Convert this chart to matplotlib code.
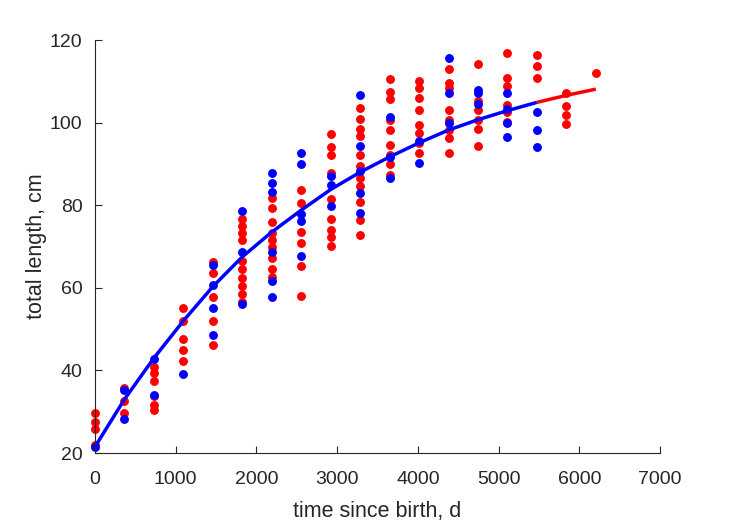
import numpy as np
import matplotlib
matplotlib.use('Agg')
import matplotlib.pyplot as plt

plt.rcParams['font.family'] = ['Liberation Sans', 'DejaVu Sans']

# Ages of the measurement cohorts, days since birth
t_days = [0, 365, 730, 1095, 1460, 1825, 2190, 2555, 2920, 3285,
          3650, 4015, 4380, 4745, 5110, 5475, 5840, 6205]

# Total length (cm) per cohort, red group
red_len = [
    [29.8, 27.6, 25.7, 21.9],
    [35.7, 32.6, 29.8],
    [40.9, 39.4, 37.5, 33.8, 31.6, 30.4],
    [55.0, 52.0, 47.6, 44.9, 42.3],
    [66.3, 63.5, 57.8, 52.0, 46.2],
    [76.7, 75.0, 73.2, 71.6, 66.6, 64.5, 62.4, 60.5, 58.4, 56.6],
    [81.8, 79.4, 76.0, 73.2, 71.6, 69.8, 67.2, 64.6, 62.7],
    [83.8, 80.5, 73.6, 70.9, 65.3, 58.0],
    [97.3, 94.2, 92.2, 87.7, 81.5, 76.7, 74.0, 72.2, 70.2],
    [103.6, 100.8, 98.4, 96.7, 92.2, 89.5, 86.7, 84.7, 80.7, 76.4, 72.8],
    [110.5, 107.5, 105.7, 100.6, 98.3, 94.6, 92.2, 90.0, 87.3],
    [110.0, 108.3, 105.9, 103.1, 99.4, 97.6, 95.0, 92.6],
    [113.1, 109.5, 108.4, 103.1, 100.6, 98.3, 96.2, 92.6],
    [114.1, 105.2, 103.1, 100.6, 98.4, 94.3],
    [116.9, 110.7, 108.8, 104.3, 102.5, 100.2],
    [116.4, 113.8, 110.7],
    [107.1, 104.0, 101.8, 99.7],
    [112.1],
]

# Total length (cm) per cohort, blue group
blue_len = [
    [21.5],
    [35.3, 28.2],
    [42.7, 34.0],
    [39.1],
    [65.6, 60.7, 55.0, 48.6],
    [78.5, 68.7, 56.1],
    [87.9, 85.3, 83.1, 68.7, 61.6, 57.8],
    [92.7, 89.9, 77.8, 76.2, 67.7],
    [87.1, 84.9, 79.8],
    [106.7, 94.4, 88.4, 82.9, 78.0],
    [101.4, 91.7, 86.6],
    [95.6, 90.3],
    [115.7, 107.1, 99.8],
    [107.9, 107.2, 104.4],
    [107.1, 103.2, 100.0, 96.6],
    [102.5, 98.2, 94.2],
    [],
    [],
]

# Fitted growth curve read at each cohort age
curve_len = [21.5, 33.0, 43.0, 52.0, 60.3, 67.5, 73.5, 78.8, 83.8, 88.0,
             91.7, 95.1, 98.2, 100.7, 102.9, 104.9, 106.6, 108.1]
t_split = 5475  # curve switches from blue to red here

# Flatten the cohorts into x/y arrays
rx = [t for t, vals in zip(t_days, red_len) for v in vals]
ry = [v for vals in red_len for v in vals]
bx = [t for t, vals in zip(t_days, blue_len) for v in vals]
by = [v for vals in blue_len for v in vals]

t_arr = np.array(t_days)
c_arr = np.array(curve_len)
early = t_arr <= t_split
late = t_arr >= t_split

fig = plt.figure(figsize=(7.29, 5.21), dpi=100)
ax = fig.add_axes([0.1303, 0.1305, 0.775, 0.7927])

ax.plot(rx, ry, 'o', color='#ff0000', markersize=6.4, markeredgewidth=0,
        clip_on=False)
ax.plot(bx, by, 'o', color='#0000ff', markersize=6.4, markeredgewidth=0,
        clip_on=False)
ax.plot(t_arr[late], c_arr[late], '-', color='#ff0000', linewidth=2.5,
        solid_capstyle='butt', clip_on=False)
ax.plot(t_arr[early], c_arr[early], '-', color='#0000ff', linewidth=2.5,
        solid_capstyle='butt', clip_on=False)

ax.set_xlim(0, 7000)
ax.set_ylim(20, 120)
ax.set_xticks(np.arange(0, 7001, 1000))
ax.set_yticks(np.arange(20, 121, 20))

for side in ['top', 'right']:
    ax.spines[side].set_visible(False)
for side in ['left', 'bottom']:
    ax.spines[side].set_color('#262626')
    ax.spines[side].set_linewidth(0.8)
ax.tick_params(direction='in', length=5, width=0.8, colors='#262626',
               labelsize=14)
ax.tick_params(axis='x', pad=13)
ax.tick_params(axis='y', pad=9)

ax.set_xlabel('time since birth, d', fontsize=15.5, color='#262626', labelpad=9)
ax.set_ylabel('total length, cm', fontsize=15.5, color='#262626', labelpad=2)

fig.savefig('out.png', dpi=100)
